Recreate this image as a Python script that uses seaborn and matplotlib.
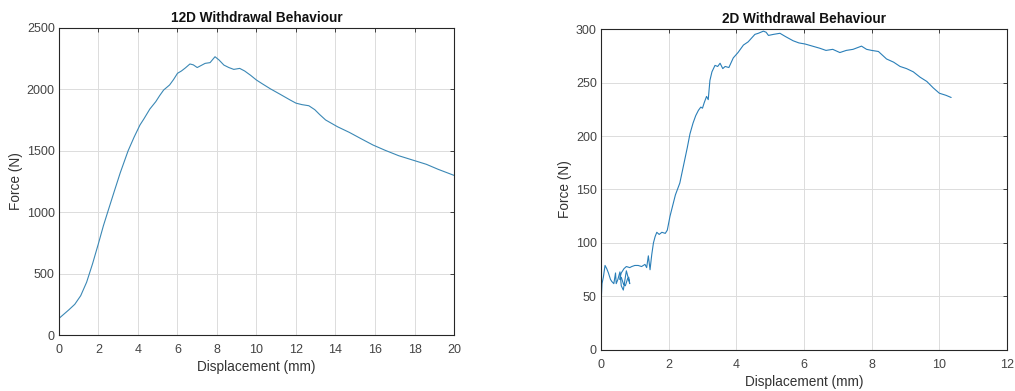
import numpy as np
import pandas as pd
import seaborn as sns
import matplotlib.pyplot as plt

# 12D withdrawal test
disp_12d = [0, 0.25, 0.5, 0.8, 1.1, 1.4, 1.7, 2.0, 2.25, 2.5, 2.8, 3.1, 3.5,
            3.8, 4.1, 4.3, 4.6, 4.9, 5.1, 5.3, 5.6, 5.8, 6.0, 6.2, 6.4, 6.63,
            6.8, 7.0, 7.2, 7.4, 7.65, 7.9, 8.1, 8.35, 8.6, 8.85, 9.15, 9.4,
            9.7, 10.0, 10.3, 10.7, 11.2, 11.7, 12.0, 12.3, 12.65, 12.95, 13.2,
            13.5, 14.1, 14.7, 15.3, 15.9, 16.5, 17.2, 17.9, 18.6, 19.2, 20]
force_12d = [135, 170, 205, 250, 320, 430, 580, 746, 890, 1018, 1170, 1320,
             1500, 1610, 1710, 1760, 1840, 1900, 1950, 1995, 2036, 2080, 2131,
             2150, 2175, 2207, 2200, 2178, 2195, 2212, 2218, 2266, 2240, 2198,
             2178, 2163, 2171, 2150, 2115, 2076, 2045, 2005, 1960, 1914, 1888,
             1876, 1867, 1835, 1795, 1751, 1696, 1650, 1598, 1547, 1505, 1460,
             1425, 1390, 1349, 1300]

# 2D withdrawal test (displacement doubles back near the start)
disp_2d = [0, 0.01, 0.03, 0.07, 0.12, 0.17, 0.22, 0.28, 0.32, 0.38, 0.43, 0.45,
           0.50, 0.56, 0.60, 0.66, 0.70, 0.75, 0.80, 0.85, 0.82, 0.78, 0.72,
           0.66, 0.60, 0.55, 0.60, 0.68, 0.75, 0.85, 0.91, 1.0, 1.1, 1.2, 1.3,
           1.35, 1.40, 1.45, 1.50, 1.55, 1.60, 1.65, 1.72, 1.80, 1.90, 1.96,
           2.04, 2.12, 2.2, 2.33, 2.45, 2.55, 2.63, 2.72, 2.80, 2.88, 2.95,
           3.0, 3.05, 3.12, 3.17, 3.22, 3.28, 3.37, 3.45, 3.52, 3.6, 3.67,
           3.78, 3.91, 4.05, 4.21, 4.35, 4.55, 4.65, 4.80, 4.88, 4.95, 5.1,
           5.29, 5.45, 5.68, 5.85, 6.03, 6.25, 6.47, 6.65, 6.85, 7.06, 7.25,
           7.45, 7.70, 7.85, 8.0, 8.2, 8.44, 8.65, 8.84, 9.03, 9.23, 9.43,
           9.63, 9.82, 10.0, 10.2, 10.35]
force_2d = [0, 49, 62, 68, 79, 76, 72, 66, 64, 62, 72, 62, 66, 73, 60, 56,
            64, 74, 68, 62, 68, 66, 60, 62, 68, 66, 72, 76, 78, 77, 78, 79, 79,
            78, 80, 77, 88, 75, 89, 100, 106, 110, 108, 110, 109, 112, 125,
            135, 145, 156, 174, 189, 202, 212, 219, 224, 227, 226, 231, 237,
            234, 252, 260, 266, 265, 268, 263, 265, 264, 273, 278, 285, 288,
            295, 296, 298, 297, 294, 295, 296, 293, 289, 287, 286, 284, 282,
            280, 281, 278, 280, 281, 284, 281, 280, 279, 272, 269, 265, 263,
            260, 255, 251, 245, 240, 238, 236]

sns.set_style("whitegrid")
plt.rcParams['font.family'] = ['Liberation Sans', 'DejaVu Sans']

fig = plt.figure(figsize=(10.15, 3.91), dpi=100)
ax1 = fig.add_axes([0.0581, 0.1432, 0.3892, 0.7852])
ax2 = fig.add_axes([0.5921, 0.1049, 0.4000, 0.8209])

df1 = pd.DataFrame({'disp': disp_12d, 'force': force_12d})
df2 = pd.DataFrame({'disp': disp_2d, 'force': force_2d})
sns.lineplot(data=df1, x='disp', y='force', ax=ax1, color='#3b88b5', lw=0.8,
             sort=False, estimator=None)
sns.lineplot(data=df2, x='disp', y='force', ax=ax2, color='#2a7fb8', lw=0.8,
             sort=False, estimator=None)

setups = [
    (ax1, '12D Withdrawal Behaviour', (0, 20), np.arange(0, 21, 2), (0, 2500), np.arange(0, 2501, 500)),
    (ax2, '2D Withdrawal Behaviour', (0, 12), np.arange(0, 13, 2), (0, 300), np.arange(0, 301, 50)),
]
for ax, title, xl, xt, yl, yt in setups:
    ax.set_xlim(*xl)
    ax.set_ylim(*yl)
    ax.set_xticks(xt)
    ax.set_yticks(yt)
    ax.set_title(title, fontsize=9.8, fontweight='bold', color='#111111', pad=4)
    ax.set_xlabel('Displacement (mm)', fontsize=9.8, color='#333333', labelpad=3)
    ax.set_ylabel('Force (N)', fontsize=9.8, color='#333333', labelpad=3)
    ax.grid(True, color='#dcdcdc', lw=0.7)
    for s in ax.spines.values():
        s.set_color('#262626')
        s.set_linewidth(0.8)
        s.set_visible(True)
    ax.tick_params(direction='in', length=3, width=0.6, colors='#262626',
                   labelsize=9, top=True, right=True, labelcolor='#444444')
    ax.tick_params(axis='x', pad=6.5)
    ax.tick_params(axis='y', pad=3)

plt.savefig('out.png', dpi=100)
